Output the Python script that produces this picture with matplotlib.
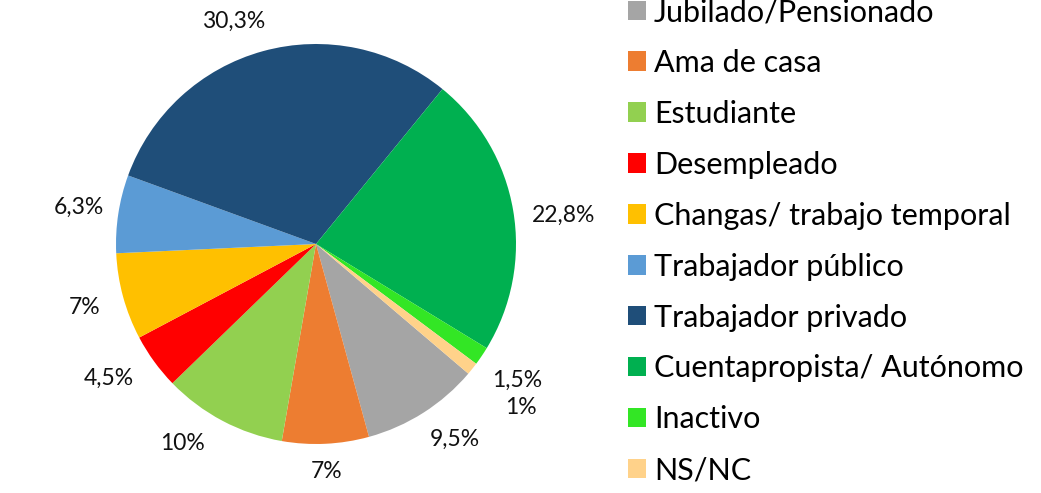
import matplotlib
matplotlib.use("Agg")
from matplotlib import pyplot as plt
import numpy as np

categorias = ["Jubilado/Pensionado", "Ama de casa", "Estudiante", "Desempleado",
              "Changas/ trabajo temporal", "Trabajador público", "Trabajador privado",
              "Cuentapropista/ Autónomo", "Inactivo", "NS/NC"]
valores = [9.5, 7, 10, 4.5, 7, 6.3, 30.3, 22.8, 1.5, 1]
etiquetas = ["9,5%", "7%", "10%", "4,5%", "7%", "6,3%", "30,3%", "22,8%", "1,5%", "1%"]
colores = ["#A5A5A5", "#ED7D31", "#92D050", "#FF0000", "#FFC000",
           "#5B9BD5", "#1F4E79", "#00B050", "#33E625", "#FFD28A"]

plt.rcParams['font.family'] = ['Lato', 'DejaVu Sans']

fig = plt.figure(figsize=(10.41, 4.93), dpi=100)
ax = fig.add_axes([116/1041, 49/493, 400/1041, 400/493])

wedges, textos = ax.pie(valores, labels=etiquetas, colors=colores, startangle=-40.4,
                        counterclock=False, labeldistance=1.2,
                        textprops={'fontsize': 16.5, 'color': '#111111'})
for t in textos:
    t.set_ha('center')
    t.set_va('center')

# ajustes de etiquetas: (indice, factor radial, giro en grados)
ajustes = [(0, 1.0, 3), (1, 0.95, 0), (2, 1.0, -6), (3, 1.03, -3),
           (6, 0.99, 5), (7, 1.04, -3), (8, 1.01, 0), (9, 1.09, 0)]
for i, f, g in ajustes:
    x, y = textos[i].get_position()
    a = np.arctan2(y, x) + np.radians(g)
    r = np.hypot(x, y) * f
    textos[i].set_position((r * np.cos(a), r * np.sin(a)))

ax.set_xlim(-1, 1)
ax.set_ylim(-1, 1)
ax.set_aspect('equal')

fig.legend(wedges, categorias, loc='upper left', bbox_to_anchor=(628/1041, 1.0 + 2/493),
           frameon=False, fontsize=22, handlelength=0.6, handleheight=0.6,
           handletextpad=0.25, labelspacing=0.75, borderaxespad=0, borderpad=0)

fig.savefig("out.png", dpi=100)
